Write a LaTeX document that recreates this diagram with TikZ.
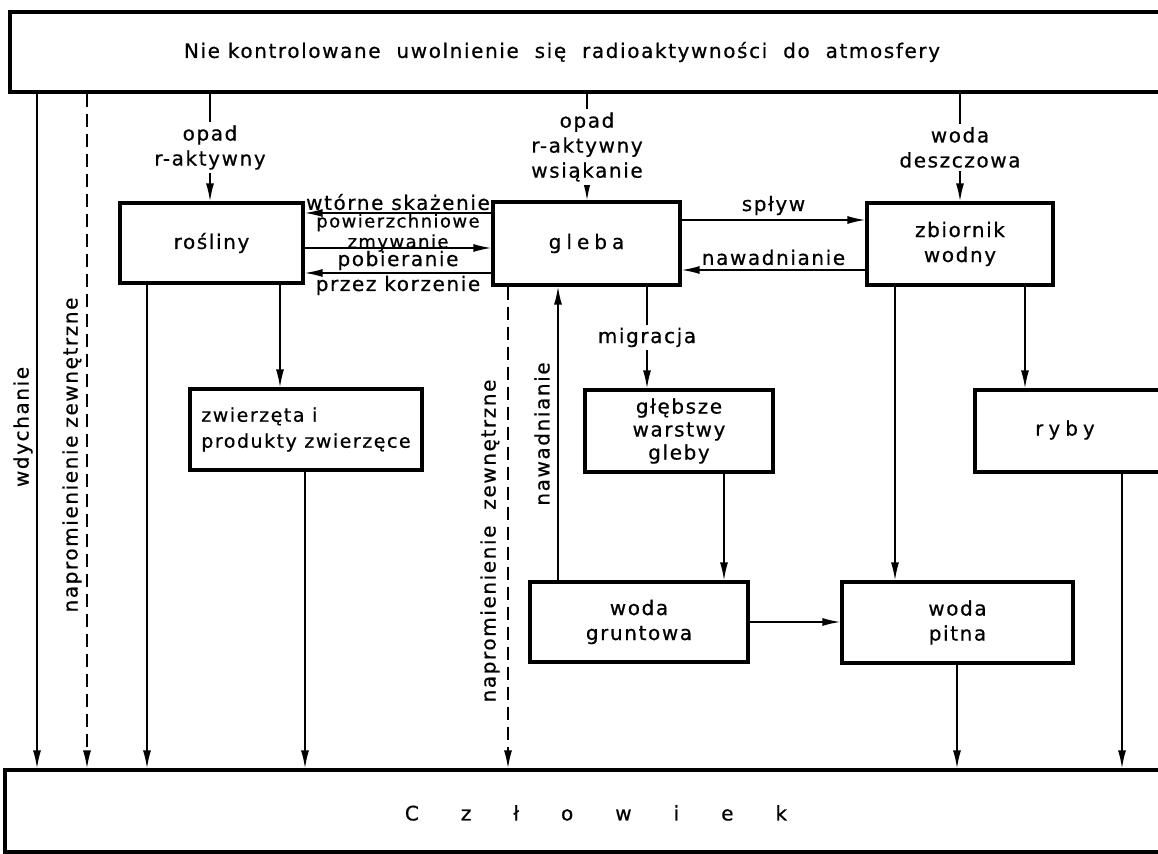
\documentclass[tikz,border=0pt]{standalone}
\usepackage{fontspec}
\setmainfont{DejaVu Sans}[LetterSpace=8,FakeBold=0.6]
\usetikzlibrary{arrows.meta}
\newcommand{\czgap}{\hspace{21pt}}
\tikzset{
  box/.style={draw, line width=1.6pt, inner sep=0pt, align=center},
  arr/.style={-{Latex[length=9pt,width=4pt]}, line width=0.8pt},
  dashline/.style={dash pattern=on 6.5pt off 3.5pt},
  lbl/.style={inner sep=1.5pt, align=center, fill=white},
  wide/.style={font=\fontsize{10}{12.5}\selectfont\addfontfeature{LetterSpace=25}},
  small/.style={font=\fontsize{9}{11}\selectfont},
}
\begin{document}
\begin{tikzpicture}[x=0.5pt,y=-0.5pt,font=\fontsize{10}{12.5}\selectfont]
    \useasboundingbox (0,0) rectangle (1158,854);
    \clip (0,0) rectangle (1158,854);

    % top and bottom
    \node[box, minimum width=585pt, minimum height=40pt] (atm) at (595,52) {};
    \node (atmtxt) at (562,52) {Nie kontrolowane\ \ uwolnienie\ \ się\ \ radioaktywności\ \ do\ \ atmosfery};
    \node[box, minimum width=587.5pt, minimum height=41pt] (czl) at (592.5,811) {};
    \node (czltxt) at (596,813) {C\czgap z\czgap ł\czgap o\czgap w\czgap i\czgap e\czgap k};

    % boxes
    \node[box, minimum width=91.5pt, minimum height=40pt] (rosl) at (211.5,243) {rośliny};
    \node[box, minimum width=93.5pt, minimum height=41.5pt, wide] (gleba) at (586.5,243.5) {gleba};
    \node[box, minimum width=93pt, minimum height=41pt] (zb) at (960,244) {zbiornik\\wodny};
    \node[box, minimum width=116pt, minimum height=40.5pt, align=left,
          font=\fontsize{9.5}{13}\selectfont] (zw) at (306,429.5) {zwierzęta i\\produkty zwierzęce};
    \node[box, minimum width=94pt, minimum height=41pt, font=\fontsize{10}{11.5}\selectfont] (glb) at (679,431) {głębsze\\warstwy\\gleby};
    \node[box, minimum width=109pt, minimum height=40pt] (gw) at (639,622) {woda\\gruntowa};
    \node[box, minimum width=115.5pt, minimum height=40.5pt] (wp) at (957.5,622.5) {woda\\pitna};
    \node[box, minimum width=102.5pt, minimum height=41pt] (ryby) at (1077.5,431) {};
    \node[wide] (rybytxt) at (1065,430) {ryby};

    % from the atmosphere
    \draw[arr] (atm.south -| 37,0) -- (czl.north -| 37,0);
    \draw[arr, dashline] (atm.south -| 87,0) -- (czl.north -| 87,0);
    \draw[arr] (atm.south -| 210,0) -- node[lbl] (opad1) {opad\\r-aktywny} (rosl.north -| 210,0);
    \draw[arr] (atm.south -| 587,0) -- node[lbl] (opad2) {opad\\r-aktywny\\wsiąkanie} (gleba.north -| 587,0);
    \draw[arr] (atm.south -| 960,0) -- node[lbl] (deszcz) {woda\\deszczowa} (zb.north -| 960,0);
    \node[rotate=90] (wdych) at (23,427) {wdychanie};
    \node[rotate=90] (nap1) at (72,455) {napromienienie zewnętrzne};

    % rosliny - gleba
    \draw[arr] (gleba.west |- 0,213) -- node[above, inner sep=1pt] (wt) {wtórne skażenie}
        node[below, inner sep=0pt, small] (pow) {powierzchniowe} (rosl.east |- 0,213);
    \draw[arr] (rosl.east |- 0,248) -- node[anchor=base, inner sep=0pt, small] (zmyw) {zmywanie} (gleba.west |- 0,248);
    \draw[arr] (gleba.west |- 0,273) -- node[above, inner sep=1pt] (pob) {pobieranie}
        node[below, inner sep=1pt] (korz) {przez korzenie} (rosl.east |- 0,273);

    % gleba - zbiornik
    \draw[arr] (gleba.east |- 0,220) -- node[above, inner sep=2pt] (splyw) {spływ} (zb.west |- 0,220);
    \draw[arr] (zb.west |- 0,270) -- node[above, inner sep=2pt] (naw1) {nawadnianie} (gleba.east |- 0,270);

    % downwards
    \draw[arr] (rosl.south -| 147,0) -- (czl.north -| 147,0);
    \draw[arr] (rosl.south -| 280,0) -- (zw.north -| 280,0);
    \draw[arr] (zw.south -| 305,0) -- (czl.north -| 305,0);
    \draw[arr, dashline] (gleba.south -| 508,0) -- (czl.north -| 508,0);
    \node[rotate=90] (nap2) at (490,541) {napromienienie\ \ zewnętrzne};
    \draw[arr] (gw.north -| 558,0) -- (gleba.south -| 558,0);
    \node[rotate=90] (naw2) at (542,434) {nawadnianie};
    \draw[arr] (gleba.south -| 647,0) -- node[lbl] (migr) {migracja} (glb.north -| 647,0);
    \draw[arr] (glb.south -| 724,0) -- (gw.north -| 724,0);
    \draw[arr] (gw.east |- 0,622) -- (wp.west |- 0,622);
    \draw[arr] (zb.south -| 895,0) -- (wp.north -| 895,0);
    \draw[arr] (zb.south -| 1025,0) -- (ryby.north -| 1025,0);
    \draw[arr] (wp.south -| 957,0) -- (czl.north -| 957,0);
    \draw[arr] (ryby.south -| 1122,0) -- (czl.north -| 1122,0);
\end{tikzpicture}
\end{document}
